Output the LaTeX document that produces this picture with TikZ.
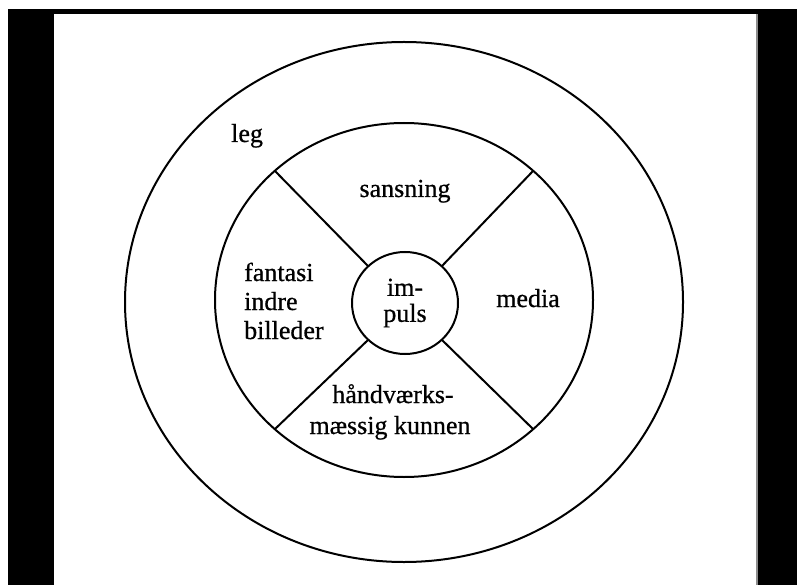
\documentclass[tikz,border=0pt]{standalone}
\usepackage{fontspec}
\setmainfont{Liberation Serif}
\newfontfamily\lblfont{Liberation Serif}[FakeBold=0.7]
\usetikzlibrary{shapes.geometric}
\begin{document}
\begin{tikzpicture}[x=1pt,y=-1pt,
  ring/.style={ellipse, draw, line width=2pt, inner sep=0pt, outer sep=0pt},
  spoke/.style={line width=2pt},
  lbl/.style={font=\lblfont\fontsize{26}{29}\selectfont, inner sep=0pt, anchor=base},
  lbll/.style={lbl, anchor=base west}]
\useasboundingbox (0,0) rectangle (797,585);
\fill[white] (0,0) rectangle (797,585);
\fill[black] (8,9) rectangle (54,585);
\fill[black] (8,9) rectangle (797,14);
\fill[black] (758,9) rectangle (797,585);
\fill[black!45] (756,14) rectangle (758,585);
% rings
\node[ring, minimum width=558, minimum height=520] (outer) at (404,302) {};
\node[ring, minimum width=378, minimum height=354] (inner) at (404,300) {};
\node[ring, minimum width=106, minimum height=102, align=center,
      font=\lblfont\fontsize{26}{26}\selectfont] (imp) at (405,303) {im-\\puls};
% spokes
\draw[spoke] (imp.45) -- (inner.45);
\draw[spoke] (imp.135) -- (inner.135);
\draw[spoke] (imp.225) -- (inner.225);
\draw[spoke] (imp.315) -- (inner.315);
% labels
\node[lbll] (leg) at (231,142) {leg};
\node[lbl] (sans) at (405,197) {sansning};
\node[lbll] (fan) at (244,281) {fantasi};
\node[lbll] (ind) at (244,310) {indre};
\node[lbll] (bil) at (244,339) {billeder};
\node[lbl] (med) at (528,307) {media};
\node[lbl] (haand) at (393,403) {håndværks-};
\node[lbl] (maes) at (390,434) {mæssig kunnen};
\end{tikzpicture}
\end{document}
